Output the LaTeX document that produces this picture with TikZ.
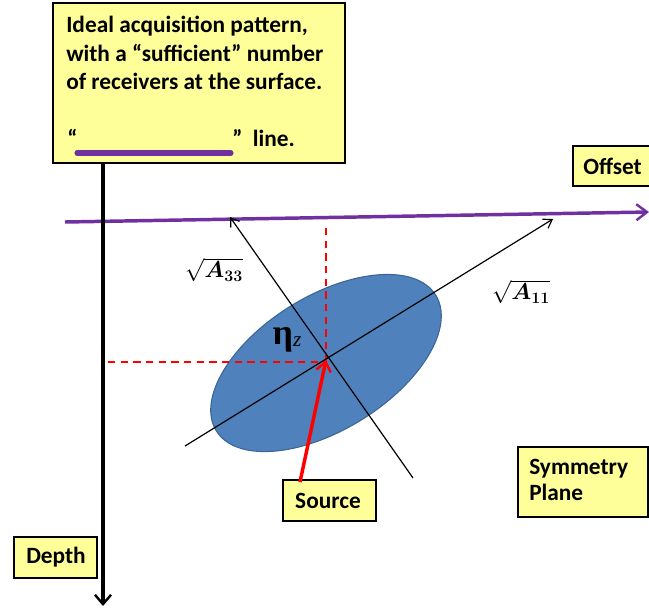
\documentclass[tikz,border=0pt]{standalone}
\usepackage[no-math]{fontspec}
\setmainfont{Carlito}
\newfontfamily\lserif{Liberation Serif}
\usepackage{amsmath,bm}
\usetikzlibrary{arrows.meta,shapes.geometric}
\definecolor{boxyellow}{HTML}{FFFF99}
\definecolor{ellblue}{HTML}{4F81BD}
\definecolor{elledge}{HTML}{3B6595}
\definecolor{axispurple}{HTML}{7030A0}
\tikzset{
  labelbox/.style={draw=black, line width=2.2pt, fill=boxyellow, inner sep=0pt},
  boxtext/.style={font=\fontsize{17.5}{21.4}\selectfont\bfseries, inner sep=0pt},
  mathlabel/.style={font=\fontsize{18}{20}\selectfont, inner sep=0pt},
  thinaxis/.style={black, line width=0.9pt, -{Straight Barb[length=6pt,width=8pt,line width=0.9pt]}},
  reddash/.style={red, line width=1pt, dash pattern=on 5.5pt off 4pt},
}
\begin{document}
\begin{tikzpicture}[x=0.75pt,y=-0.75pt]
\clip (0,0) rectangle (649,615);
\fill[white] (0,0) rectangle (649,615);

% coordinates
\coordinate (vtop) at (103,163);
\coordinate (vbot) at (103,606);
\coordinate (pleft) at (65,222);
\coordinate (pright) at (649,212);
\coordinate (c) at (326,360);
\coordinate (majA) at (185,446);
\coordinate (majB) at (553,219);
\coordinate (minA) at (413,478);
\coordinate (minB) at (230,217);
\coordinate (hl) at (108,362);
\coordinate (hr) at (326,362);
\coordinate (vt) at (326,226);

% ellipse
\node[draw=elledge, line width=0.8pt, fill=ellblue, ellipse, minimum width=258*0.75pt, minimum height=134*0.75pt, rotate=31.7, inner sep=0pt] (ell) at (326,363) {};

% purple offset axis
\draw[axispurple, line width=2.6pt, -{Straight Barb[length=8pt,width=12pt,line width=1.8pt]}] (pleft) -- (pright);

% depth axis
\draw[black, line width=2.4pt, -{Straight Barb[length=7pt,width=12pt,line width=1.8pt]}] (vtop) -- (vbot);

% dashed red lines
\draw[reddash] (hl) -- (hr);
\draw[reddash] (hr) -- (vt);

% ellipse axes
\draw[thinaxis] (majA) -- (majB);
\draw[thinaxis] (minA) -- (minB);

% labels
\node[mathlabel] (a33) at (214,270) {$\sqrt{\bm{A}_{\mathbf{33}}}$};
\node[mathlabel] (a11) at (521,292) {$\sqrt{\bm{A}_{\mathbf{11}}}$};
\node[inner sep=0pt] (eta) at (287,340) {{\lserif\fontsize{27}{28}\selectfont\bfseries η}\raisebox{-0.3ex}{\fontsize{16}{17}\selectfont\itshape\lserif z}};

% boxes
\node[labelbox, minimum width=292*0.75pt, minimum height=160*0.75pt] (topbox) at (199,83) {};
\node[boxtext, anchor=base west] (l1) at (66,32) {Ideal acquisition pattern,};
\node[boxtext, anchor=base west] (l2) at (66,61) {with a “sufficient” number};
\node[boxtext, anchor=base west] (l3) at (66,89) {of receivers at the surface.};
\node[boxtext, anchor=base west] (l4a) at (67,146) {“};
\node[boxtext, anchor=base west] (l4b) at (232,146) {”\ \ line.};
\coordinate (ul1) at (77,153);
\coordinate (ul2) at (231,153);
\draw[axispurple, line width=3.8pt, line cap=round] (ul1) -- (ul2);

\node[labelbox, minimum width=83*0.75pt, minimum height=41*0.75pt] (depth) at (55.5,557.5) {};
\node[boxtext] (depthtxt) at (56,557) {Depth};

\node[labelbox, minimum width=90*0.75pt, minimum height=40*0.75pt] (offset) at (618,166) {};
\node[boxtext, anchor=west] (offsettxt) at (583,166) {Offset};

\node[labelbox, minimum width=93*0.75pt, minimum height=41*0.75pt] (source) at (329.5,500.5) {};
\node[boxtext] (sourcetxt) at (328,501) {Source};

\node[labelbox, minimum width=130*0.75pt, minimum height=70*0.75pt] (sym) at (583,482) {};
\node[boxtext, anchor=base west] (sym1) at (529,474) {Symmetry};
\node[boxtext, anchor=base west] (sym2) at (529,500) {Plane};

% red source arrow
\coordinate (srcstart) at (300,482);
\draw[red, line width=2.6pt, -{Straight Barb[length=7pt,width=11pt,line width=1.8pt]}] (srcstart) -- (c);
\end{tikzpicture}
\end{document}
